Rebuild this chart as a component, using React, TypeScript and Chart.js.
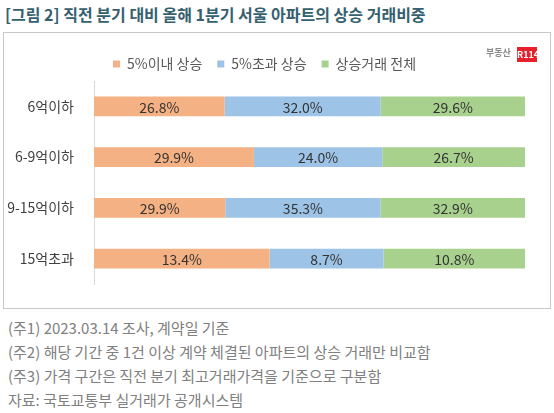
import { useEffect, useRef } from 'react';
import { Chart, registerables } from 'chart.js';
import type { Plugin } from 'chart.js';

Chart.register(...registerables);

// 가격 구간
const categories = ['6억이하', '6-9억이하', '9-15억이하', '15억초과'];
const seriesNames = ['5%이내 상승', '5%초과 상승', '상승거래 전체'];

// 상승 거래비중 (%)
const within5 = [26.8, 29.9, 29.9, 13.4];
const over5 = [32.0, 24.0, 35.3, 8.7];
const allRise = [29.6, 26.7, 32.9, 10.8];

const notes = [
    '(주1) 2023.03.14 조사, 계약일 기준',
    '(주2) 해당 기간 중 1건 이상 계약 체결된 아파트의 상승 거래만 비교함',
    '(주3) 가격 구간은 직전 분기 최고거래가격을 기준으로 구분함',
    '자료: 국토교통부 실거래가 공개시스템',
];

const colors = ['#f4b183', '#9dc3e6', '#a9d18e'];
const FONT = '"Noto Sans CJK KR", "Noto Sans", sans-serif';

const rawSeries = [within5, over5, allRise];
// 100% 누적 막대: 각 구간 합계 대비 비율
const totals = categories.map((_, i) => rawSeries.reduce((s, arr) => s + arr[i], 0));

const valueLabels: Plugin<'bar'> = {
    id: 'valueLabels',
    afterDatasetsDraw(chart) {
        const ctx = chart.ctx;
        ctx.save();
        ctx.font = `14px ${FONT}`;
        ctx.fillStyle = '#333333';
        ctx.textAlign = 'center';
        ctx.textBaseline = 'middle';
        chart.data.datasets.forEach((_, di) => {
            const meta = chart.getDatasetMeta(di);
            meta.data.forEach((el, i) => {
                const p = el.getProps(['x', 'y', 'base'], true) as { x: number; y: number; base: number };
                ctx.fillText(rawSeries[di][i].toFixed(1) + '%', (p.x + p.base) / 2, p.y + 1);
            });
        });
        ctx.restore();
    },
};

function BarChart() {
    const canvasRef = useRef<HTMLCanvasElement | null>(null);

    useEffect(() => {
        const canvas = canvasRef.current;
        if (!canvas) return;
        const chart = new Chart(canvas, {
            type: 'bar',
            data: {
                labels: categories,
                datasets: rawSeries.map((arr, di) => ({
                    label: seriesNames[di],
                    data: arr.map((v, i) => (v / totals[i]) * 100),
                    backgroundColor: colors[di],
                    borderWidth: 0,
                    barPercentage: 0.39,
                    categoryPercentage: 1,
                })),
            },
            options: {
                indexAxis: 'y',
                animation: false,
                responsive: true,
                maintainAspectRatio: false,
                layout: { padding: { top: 9, right: 25, bottom: 24, left: 0 } },
                plugins: {
                    legend: {
                        position: 'top',
                        labels: {
                            boxWidth: 7,
                            boxHeight: 7,
                            padding: 15,
                            color: '#595959',
                            font: { family: FONT, size: 14 },
                        },
                    },
                    tooltip: { enabled: false },
                },
                scales: {
                    x: { stacked: true, min: 0, max: 100, display: false },
                    y: {
                        stacked: true,
                        grid: { display: false },
                        border: { display: true, color: '#d9d9d9' },
                        ticks: {
                            color: '#404040',
                            padding: 12,
                            font: { family: FONT, size: 14 },
                        },
                        afterFit: (scale) => {
                            scale.width = 90;
                        },
                    },
                },
            },
            plugins: [valueLabels],
        });
        return () => chart.destroy();
    }, []);

    return (
        <div style={{ position: 'absolute', left: 4, top: 33, width: 546, height: 275 }}>
            <canvas ref={canvasRef} />
        </div>
    );
}

export default function App() {
    return (
        <div style={{ position: 'absolute', left: 0, top: 0, width: 554, height: 413, background: '#fff', fontFamily: FONT, overflow: 'hidden' }}>
            <div style={{ position: 'absolute', left: 5, top: 2, fontSize: 16, fontWeight: 700, color: '#35606f', whiteSpace: 'nowrap' }}>
                [그림 2] 직전 분기 대비 올해 1분기 서울 아파트의 상승 거래비중
            </div>
            <div style={{ position: 'absolute', left: 3, top: 32, width: 546, height: 275, border: '1px solid #c8c8c8' }} />
            <BarChart />
            <div style={{ position: 'absolute', left: 486, top: 46, fontSize: 9, color: '#8a8a8a', fontWeight: 700 }}>부동산</div>
            <div style={{ position: 'absolute', left: 517, top: 47, width: 20, height: 15, background: '#e8202a', color: '#fff', fontSize: 9, fontWeight: 700, lineHeight: '15px', textAlign: 'center' }}>R114</div>
            {notes.map((n, i) => (
                <div key={i} style={{ position: 'absolute', left: 8, top: 317 + i * 24, fontSize: 15, color: '#808080', whiteSpace: 'nowrap', lineHeight: '22px' }}>
                    {n}
                </div>
            ))}
        </div>
    );
}
